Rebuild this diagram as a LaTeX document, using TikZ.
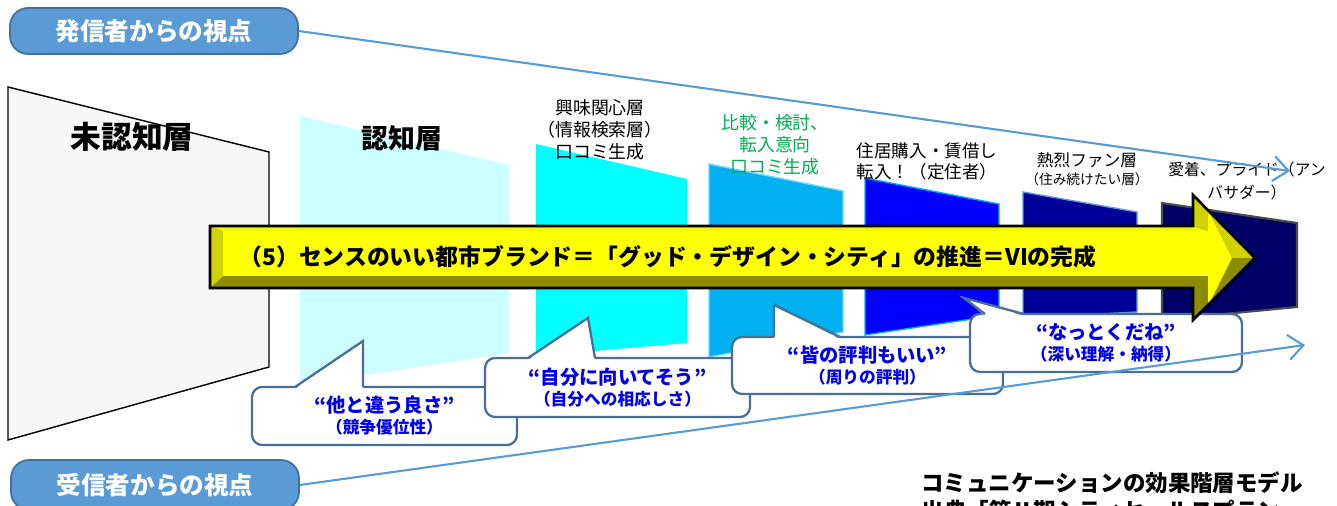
\documentclass[tikz,border=0pt]{standalone}
\usepackage{fontspec}
\setmainfont{Noto Sans CJK JP}
\usepackage{tikz}
\usepackage{xcolor}
\usetikzlibrary{arrows.meta}

\definecolor{viewblue}{HTML}{5B9BD5}
\definecolor{viewedge}{HTML}{41719C}
\definecolor{calledge}{HTML}{4A6F95}
\definecolor{calltext}{HTML}{0000E6}
\definecolor{kentou}{HTML}{00B050}
\definecolor{lvla}{HTML}{F7F7F7}
\definecolor{lvlb}{HTML}{CCFFFF}
\definecolor{lvlc}{HTML}{00FFFF}
\definecolor{lvld}{HTML}{00B0F0}
\definecolor{lvle}{HTML}{0000FF}
\definecolor{lvlf}{HTML}{000099}
\definecolor{lvlg}{HTML}{000066}
\definecolor{arrowface}{HTML}{FFFF00}
\definecolor{arrowtop}{HTML}{F5F500}
\definecolor{arrowlite}{HTML}{D2D200}
\definecolor{arrowdark}{HTML}{8C8C00}

\tikzstyle{viewpill} = [rectangle, rounded corners=0.36cm, draw=viewedge, fill=viewblue, line width=1pt, minimum width=5.76cm, minimum height=0.92cm, text=white, font=\bfseries\fontsize{14}{16}\selectfont]
\tikzstyle{viewline} = [draw=viewblue, line width=1.2pt, -{Straight Barb[length=0.3cm,width=0.5cm]}]
\tikzstyle{tier} = [line width=0.8pt]
\tikzstyle{tierhead} = [align=center, font=\fontsize{10.2}{12.5}\selectfont]
\tikzstyle{callout} = [rectangle, rounded corners=0.2cm, draw=calledge, fill=white, line width=1.3pt, align=center, text=calltext, font=\bfseries]
\tikzstyle{tail} = [draw=calledge, line width=1.3pt, line join=miter]

\begin{document}
\begin{tikzpicture}[x=0.02cm, y=-0.02cm]
  \useasboundingbox (0,0) rectangle (1337,506);

  % stages of the hierarchy
  \filldraw[tier, fill=lvla, draw=black] (8,87) -- (269,152) -- (269,367) -- (8,440) -- cycle;
  \fill[lvlb] (300,116) -- (509,165) -- (509,353) -- (300,385) -- cycle;
  \fill[lvlc] (536,144) -- (687,179) -- (687,343) -- (536,356) -- cycle;
  \filldraw[tier, fill=lvld, draw=lvld!55!white] (709,164) -- (843,191) -- (843,332) -- (709,357) -- cycle;
  \filldraw[tier, fill=lvle, draw=lvld] (865,178) -- (999,204) -- (999,315) -- (865,335) -- cycle;
  \filldraw[tier, fill=lvlf, draw=viewblue] (1023,192) -- (1137,212) -- (1137,312) -- (1023,318) -- cycle;
  \filldraw[tier, fill=lvlg, draw=black!70, line width=1.2pt] (1162,203) -- (1297,223) -- (1297,307) -- (1162,320) -- cycle;

  \node[font=\bfseries\fontsize{17.5}{20}\selectfont] (unaware) at (132,137) {未認知層};
  \node[font=\bfseries\fontsize{15.3}{18}\selectfont] (aware) at (402,138) {認知層};
  \node[tierhead] (interest) at (600,130) {興味関心層\\（情報検索層）\\口コミ生成};
  \node[tierhead, text=kentou] (compare) at (775,145) {比較・検討、\\転入意向\\口コミ生成};
  \node[tierhead, font=\fontsize{10}{12}\selectfont] (resident) at (927,161) {住居購入・賃借し\\転入！（定住者）};
  \node[tierhead, font=\fontsize{9.5}{10.5}\selectfont] (fan) at (1087,169) {熱烈ファン層\\{\fontsize{7.8}{10}\selectfont（住み続けたい層）}};
  \node[tierhead, font=\fontsize{9}{13}\selectfont] (ambassador) at (1247,181) {愛着、プライド（アン\\バサダー）};

  % speech bubbles
  \node[callout, minimum width=5.3cm, minimum height=1.16cm] (merit) at (384.5,416)
    {\fontsize{11}{15}\selectfont “他と違う良さ”\\\fontsize{9.5}{15}\selectfont （競争優位性）};
  \fill[white] (295,389) -- (363,341) -- (363,389) -- cycle;
  \draw[tail] (295,387) -- (363,341) -- (363,387);

  \node[callout, minimum width=5.3cm, minimum height=1.18cm] (suit) at (617.5,387.5)
    {\fontsize{11}{14}\selectfont “自分に向いてそう”\\\fontsize{9.5}{14}\selectfont （自分への相応しさ）};
  \fill[white] (528,360) -- (588,318) -- (595,360) -- cycle;
  \draw[tail] (528,358) -- (588,318) -- (595,358);

  \node[callout, minimum width=5.42cm, minimum height=1.14cm] (repute) at (867.5,365.5)
    {\fontsize{11}{14}\selectfont “皆の評判もいい”\\\fontsize{9.5}{14}\selectfont （周りの評判）};
  \fill[white] (774,339) -- (774,305) -- (840,339) -- cycle;
  \draw[tail] (774,337) -- (774,305) -- (840,337);

  \node[callout, minimum width=5.44cm, minimum height=1.16cm] (convince) at (1106,343)
    {\fontsize{11}{14}\selectfont “なっとくだね”\\\fontsize{9.5}{14}\selectfont （深い理解・納得）};
  \fill[white] (985,316) -- (964,298) -- (1024,316) -- cycle;
  \draw[tail] (985,314) -- (964,298) -- (1024,314);

  % bevelled yellow arrow
  \coordinate (bodyNW) at (210,226);
  \coordinate (neckN) at (1193,226);
  \coordinate (barbN) at (1193,195);
  \coordinate (tip) at (1255,258);
  \coordinate (barbS) at (1193,320);
  \coordinate (neckS) at (1193,288);
  \coordinate (bodySW) at (210,288);
  \coordinate (inNW) at (223,231);
  \coordinate (inNeckN) at (1208,231);
  \coordinate (inBarbN) at (1208,210);
  \coordinate (inTip) at (1232,258);
  \coordinate (inBarbS) at (1208,306);
  \coordinate (inNeckS) at (1208,276);
  \coordinate (inSW) at (223,276);
  \fill[arrowdark] (bodySW) -- (neckS) -- (barbS) -- (tip) -- (inTip) -- (inBarbS) -- (inNeckS) -- (inSW) -- cycle;
  \fill[arrowlite] (neckN) -- (barbN) -- (tip) -- (inTip) -- (inBarbN) -- (inNeckN) -- cycle;
  \fill[arrowtop] (bodyNW) -- (neckN) -- (inNeckN) -- (inNW) -- cycle;
  \fill[arrowlite] (bodyNW) -- (inNW) -- (inSW) -- (bodySW) -- cycle;
  \fill[arrowface] (inNW) -- (inNeckN) -- (inBarbN) -- (inTip) -- (inBarbS) -- (inNeckS) -- (inSW) -- cycle;
  \draw[line width=1.5pt, line join=miter] (bodyNW) -- (neckN) -- (barbN) -- (tip) -- (barbS) -- (neckS) -- (bodySW) -- cycle;
  \node[font=\bfseries\fontsize{13}{15}\selectfont] (brand) at (668,257)
    {（5）センスのいい都市ブランド＝「グッド・デザイン・シティ」の推進＝VIの完成};

  % viewpoints
  \node[viewpill] (sender) at (154,31) {発信者からの視点};
  \node[viewpill, minimum height=1cm] (receiver) at (155,485) {受信者からの視点};
  \coordinate (sendtip) at (1290,171);
  \coordinate (recvtip) at (1305,345);
  \draw[viewline] (sender.east) -- (sendtip);
  \draw[viewline] (receiver.east) -- (recvtip);

  \node[font=\bfseries\fontsize{12.8}{15}\selectfont] (model) at (1112,483) {コミュニケーションの効果階層モデル};
  \node[font=\bfseries\fontsize{12.8}{15}\selectfont, below of=model, node distance=0.56cm] (source) {出典「第Ⅱ期シティセールスプラン」};
\end{tikzpicture}
\end{document}
